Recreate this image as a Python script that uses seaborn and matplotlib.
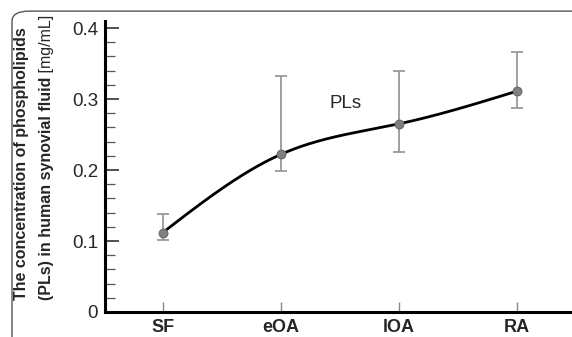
import numpy as np
import pandas as pd
import seaborn as sns
import matplotlib
matplotlib.use("Agg")
import matplotlib.pyplot as plt
from matplotlib.patches import FancyBboxPatch

groups = ["SF", "eOA", "lOA", "RA"]
pls_mean = [0.112, 0.222, 0.265, 0.311]
pls_low = [0.102, 0.198, 0.225, 0.288]
pls_high = [0.138, 0.332, 0.340, 0.367]

sns.set_theme(style="white")
plt.rcParams["font.family"] = ["Liberation Sans", "DejaVu Sans"]

df = pd.DataFrame({"group": groups, "x": np.arange(len(groups)), "pls": pls_mean})

fig = plt.figure(figsize=(5.72, 3.37), dpi=100)
ax = fig.add_axes([0.1836, 0.0742, 0.8164, 0.8635])

# smooth curve through the group means (natural cubic spline)
def natural_spline(x, y, n=200):
    x = np.asarray(x, float); y = np.asarray(y, float)
    k = len(x); h = np.diff(x)
    A = np.zeros((k, k)); r = np.zeros(k)
    A[0, 0] = A[-1, -1] = 1
    for i in range(1, k - 1):
        A[i, i - 1] = h[i - 1]; A[i, i] = 2 * (h[i - 1] + h[i]); A[i, i + 1] = h[i]
        r[i] = 6 * ((y[i + 1] - y[i]) / h[i] - (y[i] - y[i - 1]) / h[i - 1])
    m = np.linalg.solve(A, r)
    xs = np.linspace(x[0], x[-1], n)
    idx = np.clip(np.searchsorted(x, xs) - 1, 0, k - 2)
    a = x[idx + 1] - xs; b = xs - x[idx]; hh = h[idx]
    ys = (m[idx] * a**3 + m[idx + 1] * b**3) / (6 * hh) + \
         (y[idx] / hh - m[idx] * hh / 6) * a + (y[idx + 1] / hh - m[idx + 1] * hh / 6) * b
    return xs, ys

xs, ys = natural_spline(df["x"], df["pls"])
sns.lineplot(x=xs, y=ys, color="black", lw=2, ax=ax, zorder=3)

yerr = [np.array(pls_mean) - np.array(pls_low), np.array(pls_high) - np.array(pls_mean)]
ax.errorbar(df["x"], df["pls"], yerr=yerr, fmt="none", ecolor="#9a9a9a",
            elinewidth=1.3, capsize=4, capthick=1.3, zorder=2)
sns.scatterplot(data=df, x="x", y="pls", color="#7f7f7f", edgecolor="#6a6a6a",
                s=40, linewidth=0.8, ax=ax, zorder=4)

ax.set_xlim(-0.49, 3.47)
ax.set_ylim(0, 0.41)
ax.set_xticks(df["x"])
ax.set_xticklabels(groups, fontsize=13, fontweight="bold")
ax.set_yticks([0, 0.1, 0.2, 0.3, 0.4])
ax.set_yticklabels(["0", "0.1", "0.2", "0.3", "0.4"], fontsize=13.5)
ax.set_yticks(np.arange(0, 0.41, 0.02), minor=True)
ax.tick_params(axis="y", which="major", direction="in", length=10, width=1.2, color="#333333", pad=5, left=True)
ax.tick_params(axis="y", which="minor", direction="in", length=7, width=0.9, color="#555555", left=True)
ax.tick_params(axis="x", which="major", direction="in", length=7, width=1, color="#888888", pad=5, bottom=True)
ax.set_xlabel("")
ax.set_ylabel("")
sns.despine(ax=ax)
for s in ["left", "bottom"]:
    ax.spines[s].set_linewidth(2.2)
    ax.spines[s].set_color("black")

ax.text(1.55, 0.294, "PLs", fontsize=13.5, ha="center", va="center")

# two-line y label, "[mg/mL]" in normal weight
fig.text(0.038, 0.515, "The concentration of phospholipids", rotation=90,
         fontsize=11.5, fontweight="bold", ha="center", va="center")
t2 = fig.text(0.081, 0.44, "(PLs) in human synovial fluid", rotation=90,
              fontsize=11.5, fontweight="bold", ha="center", va="center")
ax.annotate(" [mg/mL]", xy=(0.5, 1), xycoords=t2, rotation=90, fontsize=11.5,
            ha="center", va="bottom", annotation_clip=False)

# rounded frame around the panel
frame = FancyBboxPatch((0.021, -0.2), 1.2, 1.167, boxstyle="round,pad=0,rounding_size=0.03",
                       transform=fig.transFigure, fill=False, edgecolor="#555555",
                       linewidth=1.0, clip_on=False)
fig.patches.append(frame)

fig.savefig("out.png", dpi=100)
